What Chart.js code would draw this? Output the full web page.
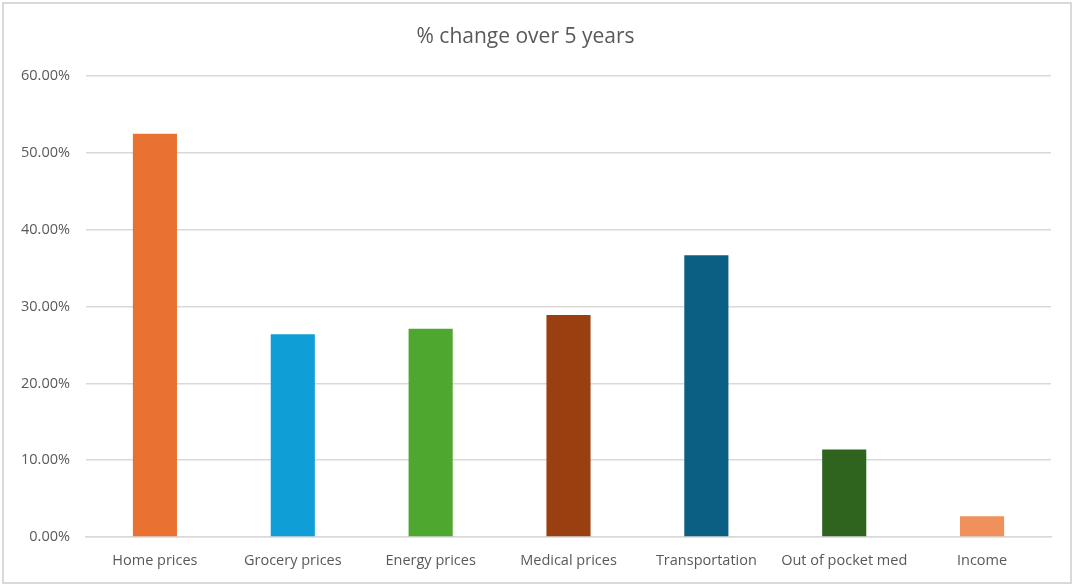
<!DOCTYPE html>
<html>
<head>
<meta charset="utf-8">
<script src="https://cdn.jsdelivr.net/npm/chart.js@4/dist/chart.umd.min.js"></script>
<style>
  html, body { margin: 0; padding: 0; background: #fff; }
  #wrap { position: relative; width: 1074px; height: 586px; }
  #frame { position: absolute; left: 2px; top: 2px; width: 1066px; height: 578px; border: 2px solid #d9d9d9; pointer-events: none; }
</style>
</head>
<body>
<div id="wrap">
  <canvas id="chart" width="1074" height="586"></canvas>
  <div id="frame"></div>
</div>
<script>
const categories = ['Home prices', 'Grocery prices', 'Energy prices', 'Medical prices', 'Transportation', 'Out of pocket med', 'Income'];
const changePct = [52.5, 26.4, 27.1, 28.9, 36.7, 11.4, 2.7];
const barColors = ['#E97132', '#0F9ED5', '#4EA72E', '#9A3F0F', '#0B5F82', '#2F641E', '#F0915C'];

const textColor = '#595959';
const gridColor = '#d9d9d9';
const fontFamily = '"Open Sans", sans-serif';

const ctx = document.getElementById('chart').getContext('2d');
new Chart(ctx, {
  type: 'bar',
  data: {
    labels: categories,
    datasets: [{
      label: '% change over 5 years',
      data: changePct,
      backgroundColor: barColors,
      borderWidth: 0,
      categoryPercentage: 1,
      barPercentage: 0.32
    }]
  },
  options: {
    responsive: false,
    animation: false,
    layout: { padding: { left: 0, right: 23, top: 0, bottom: 0 } },
    plugins: {
      legend: { display: false },
      tooltip: { enabled: false },
      title: {
        display: true,
        text: '% change over 5 years',
        color: textColor,
        font: { family: fontFamily, size: 21, weight: 'normal' },
        padding: { top: 24, bottom: 27 }
      }
    },
    scales: {
      x: {
        afterFit: (scale) => { scale.height = 49; },
        grid: { display: false },
        border: { color: gridColor, width: 1.5 },
        ticks: { color: textColor, font: { family: fontFamily, size: 14.5 }, padding: 7 }
      },
      y: {
        min: 0,
        max: 60,
        afterFit: (scale) => { scale.width = 86; },
        grid: { color: gridColor, lineWidth: 1.5, drawTicks: false },
        border: { display: false },
        ticks: {
          stepSize: 10,
          color: textColor,
          font: { family: fontFamily, size: 14.5 },
          padding: 16,
          callback: (v) => v.toFixed(2) + '%'
        }
      }
    }
  }
});
</script>
</body>
</html>
